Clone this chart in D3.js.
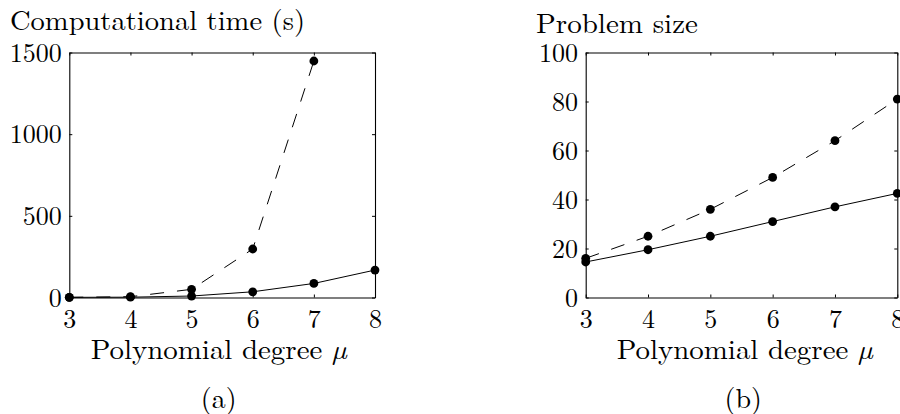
<!DOCTYPE html>
<html>
<head>
<meta charset="utf-8">
<script src="https://cdn.jsdelivr.net/npm/d3@7"></script>
<style>
  html, body { margin: 0; padding: 0; background: #fff; }
  svg { display: block; }
</style>
</head>
<body>
<svg id="chart" width="900" height="414"></svg>
<script>
// ---- data ----
const degrees = [3, 4, 5, 6, 7, 8];
const timeFull = [1, 5, 50, 297, 1448];             // dashed, mu = 3..7
const timeReduced = [1, 2, 9, 35, 86, 168];         // solid, mu = 3..8
const sizeFull = [16, 25, 36, 49, 64, 81];          // dashed
const sizeReduced = [14.5, 19.5, 25, 31, 37, 42.5]; // solid
const timeTicks = [0, 500, 1000, 1500];
const sizeTicks = [0, 20, 40, 60, 80, 100];
const xTicks = [3, 4, 5, 6, 7, 8];

const FONT = '"Latin Modern Roman", "Liberation Serif", serif';
const FS = 26;   // tick labels
const LFS = 28;  // labels
const svg = d3.select("#chart");

function panel(opt) {
  const x = d3.scaleLinear().domain([3, 8]).range([opt.left, opt.right]);
  const y = d3.scaleLinear().domain(opt.yDomain).range([297.5, 52.5]);
  const g = svg.append("g");

  const styleAxis = sel => {
    sel.attr("font-family", null).attr("font-size", null);
    sel.selectAll("path.domain").attr("stroke", "#000").attr("stroke-width", 1.1);
    sel.selectAll(".tick line").attr("stroke", "#000").attr("stroke-width", 1);
    sel.selectAll(".tick text").style("font-family", FONT).style("font-size", FS + "px").attr("fill", "#000");
  };

  const gb = g.append("g").attr("transform", `translate(0,${y.range()[0]})`)
    .call(d3.axisBottom(x).tickValues(xTicks).tickSizeInner(-3).tickSizeOuter(0)
      .tickPadding(0).tickFormat(d3.format("d")));
  styleAxis(gb);
  gb.selectAll(".tick text").attr("dy", null).attr("y", 30.5);

  const gt = g.append("g").attr("transform", `translate(0,${y.range()[1]})`)
    .call(d3.axisTop(x).tickValues(xTicks).tickSizeInner(-3).tickSizeOuter(0).tickFormat(""));
  styleAxis(gt);

  const gl = g.append("g").attr("transform", `translate(${opt.left},0)`)
    .call(d3.axisLeft(y).tickValues(opt.yTicks).tickSizeInner(-3).tickSizeOuter(0)
      .tickPadding(7.6).tickFormat(d3.format("d")));
  styleAxis(gl);
  gl.selectAll(".tick text").attr("dy", "0.33em");

  const gr = g.append("g").attr("transform", `translate(${opt.right},0)`)
    .call(d3.axisRight(y).tickValues(opt.yTicks).tickSizeInner(-3).tickSizeOuter(0).tickFormat(""));
  styleAxis(gr);

  const line = d3.line().x((d, i) => x(degrees[i])).y(d => y(d));

  g.append("path").datum(opt.dashed).attr("d", line)
    .attr("fill", "none").attr("stroke", "#000").attr("stroke-width", 1)
    .attr("stroke-dasharray", "14,13");
  g.append("path").datum(opt.solid).attr("d", line)
    .attr("fill", "none").attr("stroke", "#000").attr("stroke-width", 1);

  [opt.dashed, opt.solid].forEach(series => {
    g.append("g").selectAll("circle").data(series).join("circle")
      .attr("cx", (d, i) => x(degrees[i])).attr("cy", d => y(d))
      .attr("r", 4.4).attr("fill", "#000");
  });

  g.append("text").attr("x", opt.titleX).attr("y", opt.titleY)
    .style("font-family", FONT).style("font-size", LFS + "px")
    .attr("textLength", opt.titleLen).attr("lengthAdjust", "spacingAndGlyphs")
    .text(opt.title);

  const xl = g.append("text").attr("x", opt.xlabX).attr("y", 358.5)
    .style("font-family", FONT).style("font-size", LFS + "px")
    .attr("textLength", 256).attr("lengthAdjust", "spacingAndGlyphs");
  xl.append("tspan").text("Polynomial degree ");
  xl.append("tspan").style("font-style", "italic").text("\u00B5");

  g.append("text").attr("x", opt.tagX).attr("y", 407.5).attr("text-anchor", "middle")
    .style("font-family", FONT).style("font-size", LFS + "px")
    .text(opt.tag);
}

panel({
  left: 69.3, right: 375, yDomain: [0, 1500], yTicks: timeTicks,
  dashed: timeFull, solid: timeReduced,
  title: "Computational time (s)", titleX: 10, titleY: 29.5, titleLen: 295,
  xlabX: 90.7, tagX: 218.7, tag: "(a)"
});
panel({
  left: 585.7, right: 897.3, yDomain: [0, 100], yTicks: sizeTicks,
  dashed: sizeFull, solid: sizeReduced,
  title: "Problem size", titleX: 536, titleY: 33, titleLen: 162,
  xlabX: 616.7, tagX: 743.3, tag: "(b)"
});
</script>
</body>
</html>
